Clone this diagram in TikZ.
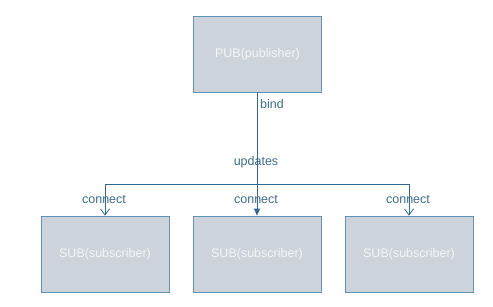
\documentclass[tikz,border=0pt]{standalone}
\usepackage{fontspec}
\setmainfont{Liberation Sans}
\usetikzlibrary{arrows.meta}
\definecolor{boxfill}{HTML}{CDD3DB}
\definecolor{boxline}{HTML}{5E93BA}
\definecolor{edge}{HTML}{2F6890}
\definecolor{lbl}{HTML}{3D6D92}
\tikzset{
  box/.style={draw=boxline, fill=boxfill, line width=0.8pt, minimum width=128pt, minimum height=76pt, inner sep=0pt, text=white!96!black, font=\fontsize{12.5}{15}\selectfont},
  conn/.style={draw=edge, line width=0.8pt},
  lab/.style={text=lbl, font=\fontsize{12.5}{15}\selectfont, inner sep=1pt},
}
\begin{document}
\begin{tikzpicture}[x=1pt,y=-1pt]
\useasboundingbox (0,0) rectangle (493,306);
\node[box] (pub) at (257.5,54) {PUB(publisher)};
\node[box] (s1) at (105,254) {SUB(subscriber)};
\node[box] (s2) at (257,254) {SUB(subscriber)};
\node[box] (s3) at (409,254) {SUB(subscriber)};
\coordinate (j) at (257,184);
\draw[conn, -{Triangle[length=7pt,width=6pt]}] (pub.south -| s2.north) -- (s2.north);
\draw[conn, -{Straight Barb[length=6pt,width=9pt]}] (j) -| (s1.north);
\draw[conn, -{Straight Barb[length=6pt,width=9pt]}] (j) -| (s3.north);
\node[lab, anchor=west] (lbind) at (259,104.5) {bind};
\node[lab] (lupd) at (256,162) {updates};
\node[lab] (lc1) at (104,200) {connect};
\node[lab] (lc2) at (256,200) {connect};
\node[lab] (lc3) at (408,200) {connect};
\end{tikzpicture}
\end{document}
